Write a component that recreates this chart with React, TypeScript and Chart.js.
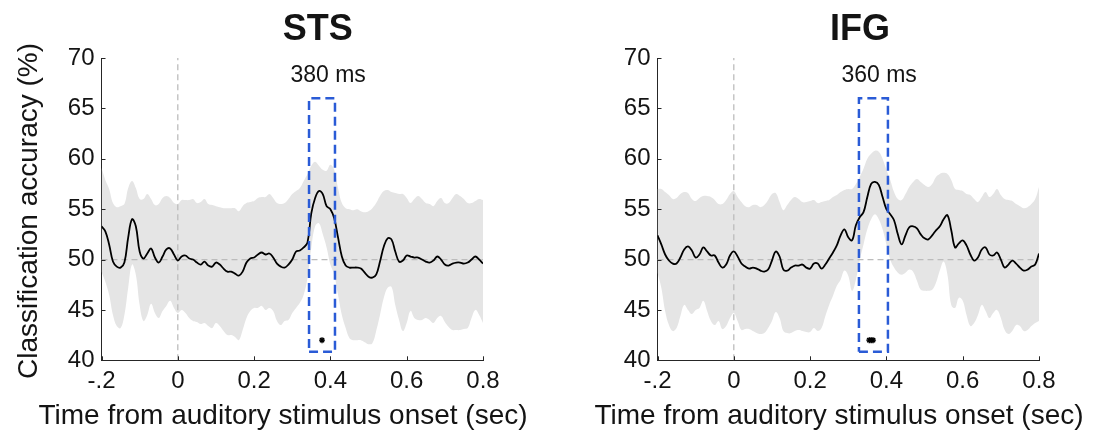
import React, { useEffect, useRef } from "react";
import { Chart, registerables } from "chart.js";

Chart.register(...registerables);

// ---------------- data ----------------
const timeSec = [
  -0.2, -0.19, -0.18, -0.17, -0.16, -0.15, -0.14, -0.13, -0.12, -0.11,
  -0.1, -0.09, -0.08, -0.07, -0.06, -0.05, -0.04, -0.03, -0.02, -0.01,
  0.0, 0.01, 0.02, 0.03, 0.04, 0.05, 0.06, 0.07, 0.08, 0.09,
  0.1, 0.11, 0.12, 0.13, 0.14, 0.15, 0.16, 0.17, 0.18, 0.19,
  0.2, 0.21, 0.22, 0.23, 0.24, 0.25, 0.26, 0.27, 0.28, 0.29,
  0.3, 0.31, 0.32, 0.33, 0.34, 0.35, 0.36, 0.37, 0.38, 0.39,
  0.4, 0.41, 0.42, 0.43, 0.44, 0.45, 0.46, 0.47, 0.48, 0.49,
  0.5, 0.51, 0.52, 0.53, 0.54, 0.55, 0.56, 0.57, 0.58, 0.59,
  0.6, 0.61, 0.62, 0.63, 0.64, 0.65, 0.66, 0.67, 0.68, 0.69,
  0.7, 0.71, 0.72, 0.73, 0.74, 0.75, 0.76, 0.77, 0.78, 0.79,
  0.8,
];

const stsMean = [
  53.3, 52.8, 51.5, 49.8, 49.3, 49.2, 49.7, 52.2, 54.0, 53.3,
  50.8, 50.1, 50.6, 51.1, 50.2, 49.7, 50.3, 51.0, 51.1, 50.5,
  49.9, 50.3, 50.4, 50.1, 50.0, 49.7, 49.5, 49.8, 49.4, 49.3,
  49.7, 49.5, 49.1, 48.8, 48.8, 48.6, 48.4, 48.8, 49.7, 50.1,
  50.2, 50.5, 50.7, 50.5, 50.6, 50.2, 49.6, 49.3, 49.2, 49.5,
  50.0, 50.8, 50.9, 51.2, 51.7, 54.6, 56.1, 56.8, 56.5, 55.3,
  55.0, 54.1, 52.2, 50.3, 49.4, 49.2, 49.2, 49.2, 49.1, 48.7,
  48.3, 48.2, 48.5, 49.8, 51.3, 52.1, 52.0, 50.8, 49.8, 49.9,
  50.4, 50.3, 50.2, 50.2, 50.0, 49.8, 49.7, 49.9, 50.3, 50.0,
  49.5, 49.4, 49.6, 49.7, 49.7, 49.6, 49.7, 50.0, 50.3, 50.0,
  49.6,
];

const stsUpper = [
  59.1, 57.9, 57.0, 55.6, 55.2, 55.3, 55.5, 57.1, 57.8, 57.1,
  56.0, 56.0, 56.5, 56.0, 55.4, 55.5, 56.1, 56.3, 56.1, 55.6,
  55.5, 55.9, 55.9, 55.9, 56.0, 55.6, 55.7, 56.0, 55.5, 55.4,
  55.3, 55.2, 55.1, 55.1, 55.1, 55.1, 54.8, 55.3, 55.6, 55.7,
  55.8, 56.1, 56.2, 56.2, 56.5, 56.1, 55.6, 55.5, 55.6, 56.0,
  56.5, 56.8, 57.1, 57.8, 58.5, 59.3, 59.7, 59.3, 58.9, 58.8,
  59.4, 58.9, 57.1, 55.6, 55.1, 55.0, 54.9, 55.0, 54.8, 54.7,
  54.8, 55.1, 55.6, 56.3, 56.8, 56.9, 56.7, 56.6, 56.5, 56.5,
  56.1, 55.6, 56.0, 56.3, 56.0, 55.6, 55.5, 55.3, 55.8, 56.1,
  55.6, 55.6, 56.1, 56.5, 56.3, 56.0, 55.6, 55.6, 55.8, 56.0,
  55.9,
];

const stsLower = [
  48.8, 47.8, 46.5, 44.5, 43.4, 43.2, 44.5, 47.2, 49.5, 48.5,
  45.5, 43.9, 44.5, 45.6, 44.7, 44.2, 44.9, 45.4, 45.9, 45.2,
  44.7, 45.0, 44.7, 44.2, 43.9, 43.8, 43.6, 43.7, 43.4, 43.2,
  43.7, 43.4, 42.9, 42.5, 42.5, 42.3, 42.0, 43.0, 44.2, 44.9,
  45.2, 45.2, 45.4, 45.0, 45.2, 44.9, 43.9, 43.5, 43.9, 44.0,
  44.7, 45.2, 45.7, 46.5, 48.2, 51.2, 53.3, 53.6, 52.5, 51.2,
  49.5, 48.5, 46.5, 44.5, 43.2, 42.2, 42.0, 42.0, 42.0, 41.8,
  41.6, 41.7, 42.9, 44.5, 46.2, 47.2, 47.3, 45.5, 44.0, 42.9,
  43.7, 44.9, 44.2, 44.0, 44.0, 44.2, 44.0, 43.7, 44.2, 44.4,
  43.8, 43.3, 43.0, 43.0, 43.0, 43.1, 43.2, 44.2, 45.0, 44.5,
  43.7,
];

const ifgMean = [
  52.4, 51.5, 50.5, 49.9, 49.6, 49.6, 50.2, 51.0, 51.3, 50.9,
  50.2, 50.5, 51.2, 50.8, 50.4, 50.4, 49.7, 49.2, 49.5, 50.4,
  50.8, 50.3, 49.6, 49.3, 49.1, 49.2, 49.1, 48.9, 48.8, 49.0,
  49.9, 50.8, 50.3, 49.0, 48.9, 49.2, 49.4, 49.4, 49.5, 49.2,
  49.1, 49.6, 49.6, 49.1, 49.5, 50.1, 50.7, 51.4, 52.4, 53.0,
  52.2, 51.9, 53.4, 54.2, 54.7, 56.2, 57.5, 57.7, 57.4, 56.2,
  55.0, 54.5, 53.9, 52.5, 51.5, 52.4, 53.2, 53.3, 53.1, 52.5,
  52.1, 52.0, 52.4, 52.9, 53.3, 54.0, 54.4, 52.9, 51.2, 51.6,
  51.9, 51.4, 50.5, 49.9, 50.2, 51.0, 51.2, 50.5, 50.4, 50.7,
  50.0, 49.2, 49.5, 49.9, 49.6, 49.2, 48.9, 49.0, 49.3, 49.5,
  50.6,
];

const ifgUpper = [
  57.0, 57.0, 56.7, 56.4, 56.0, 56.1, 56.5, 56.7, 56.6, 56.0,
  55.8, 56.1, 56.3, 56.3, 56.2, 55.9, 55.5, 55.5, 55.9, 56.5,
  56.8, 56.2, 55.7, 55.3, 55.2, 55.4, 55.4, 55.2, 55.4, 55.9,
  56.5, 56.6, 55.7, 54.9, 55.4, 55.9, 56.2, 56.0, 55.7, 55.7,
  55.8, 55.9, 55.6, 55.7, 55.8, 55.9, 56.2, 56.4, 56.7, 56.9,
  57.0, 57.0, 57.5, 58.2, 59.0, 60.0, 60.5, 60.8, 60.7, 60.0,
  58.9, 57.9, 56.7, 56.0, 55.9, 56.5, 57.2, 57.7, 58.0, 57.7,
  57.4, 57.2, 57.5, 58.2, 58.5, 58.6, 58.5, 57.9, 57.0, 56.9,
  56.8, 56.5, 56.4, 56.0, 55.7, 56.2, 56.7, 56.2, 56.5, 57.0,
  56.4, 56.0, 55.9, 55.8, 55.5, 55.3, 55.1, 55.2, 55.5, 56.0,
  57.2,
];

const ifgLower = [
  48.7, 47.2, 44.9, 43.5, 42.9, 43.2, 44.4, 45.5, 45.0, 44.6,
  45.0, 45.2, 45.9, 44.9, 43.9, 43.5, 43.9, 43.1, 43.4, 44.2,
  44.7, 43.9, 43.0, 43.1, 43.1, 42.9, 42.7, 42.6, 42.7, 43.2,
  43.9, 44.8, 44.2, 42.9, 42.7, 42.7, 42.9, 43.0, 42.9, 42.8,
  42.8, 43.2, 42.9, 43.2, 44.4, 45.5, 46.4, 47.4, 48.0, 48.9,
  48.4, 46.9, 48.0, 49.9, 51.5, 53.0, 54.0, 54.5, 54.0, 53.0,
  51.5, 50.0, 49.2, 48.7, 48.5, 48.7, 49.0, 48.8, 47.9, 47.0,
  46.9, 46.9, 47.0, 47.7, 48.9, 49.8, 48.5, 45.5, 45.2, 46.2,
  45.9, 44.5, 43.4, 43.7, 44.5, 45.5, 44.9, 44.2, 44.7, 45.0,
  44.2, 43.0, 42.6, 42.9, 43.5, 43.4, 42.9, 43.0, 43.4, 43.7,
  43.9,
];

const yRange = [40, 70];
const yStep = 5;
const xRange = [-0.2, 0.8];
const xTickValues = [-0.2, 0, 0.2, 0.4, 0.6, 0.8];
const xTickLabels = ["-.2", "0", "0.2", "0.4", "0.6", "0.8"];
const chanceLevel = 50;
const onsetTime = 0;

const stsWindow = [0.344, 0.412];
const ifgWindow = [0.328, 0.404];
const windowAccuracy = [40.85, 66.0];

const stsSigTimes = [0.378];
const ifgSigTimes = [0.355, 0.36, 0.365];
const sigMarkLevel = 42;

const stsPeakLabel = "380 ms";
const ifgPeakLabel = "360 ms";
const stsPeakLabelAt = [0.394, 67.6];
const ifgPeakLabelAt = [0.381, 67.6];

const yAxisTitle = "Classification accuracy (%)";
const xAxisTitle = "Time from auditory stimulus onset (sec)";

// ---------------- styling ----------------
const FONT = "'Liberation Sans', Arial, Helvetica, sans-serif";
const TEXT = "#141414";
const AXIS = "#262626";
const BAND = "#e5e5e5";
const REF = "#bcbcbc";
const BLUE = "#2a5bd6";

const W = 556;
const H = 443;

Chart.defaults.font.family = FONT;

const toXY = (xs: number[], ys: number[]) => xs.map((x, i) => ({ x, y: ys[i] }));

const tickMarks = {
  id: "tickMarks",
  afterDraw(chart: any) {
    const ctx = chart.ctx;
    const { left, bottom } = chart.chartArea;
    const xs = chart.scales.x;
    const ys = chart.scales.y;
    ctx.save();
    ctx.strokeStyle = AXIS;
    ctx.lineWidth = 1;
    ctx.beginPath();
    xs.ticks.forEach((t: any) => {
      const px = Math.round(xs.getPixelForValue(t.value)) + 0.5;
      ctx.moveTo(px, bottom);
      ctx.lineTo(px, bottom - 4);
    });
    ys.ticks.forEach((t: any) => {
      const py = Math.round(ys.getPixelForValue(t.value)) + 0.5;
      ctx.moveTo(left, py);
      ctx.lineTo(left + 4, py);
    });
    ctx.stroke();
    ctx.restore();
  },
};

const panelText = {
  id: "panelText",
  afterDraw(chart: any, _args: any, opts: any) {
    const ctx = chart.ctx;
    const xs = chart.scales.x;
    const ys = chart.scales.y;
    ctx.save();
    ctx.fillStyle = TEXT;
    ctx.textBaseline = "alphabetic";
    ctx.textAlign = "center";
    // panel title
    ctx.font = `bold 36px ${FONT}`;
    ctx.fillText(opts.title, opts.titleX, 40);
    // peak label
    ctx.font = `23px ${FONT}`;
    ctx.fillText(
      opts.peakLabel,
      xs.getPixelForValue(opts.peakAt[0]),
      ys.getPixelForValue(opts.peakAt[1])
    );
    // x axis title
    ctx.font = `28px ${FONT}`;
    ctx.fillText(xAxisTitle, opts.xTitleX, 423.5);
    // y axis title
    if (opts.showYTitle) {
      ctx.translate(36.5, 211);
      ctx.rotate(-Math.PI / 2);
      ctx.fillText(yAxisTitle, 0, 0);
    }
    ctx.restore();
  },
};

type PanelCfg = {
  title: string;
  titleX: number;
  mean: number[];
  upper: number[];
  lower: number[];
  window: number[];
  sigTimes: number[];
  peakLabel: string;
  peakAt: number[];
  showYTitle: boolean;
  xTitleX: number;
};

function Panel({ cfg }: { cfg: PanelCfg }) {
  const ref = useRef<HTMLCanvasElement | null>(null);
  useEffect(() => {
    if (!ref.current) return;
    const boxPts = [
      { x: cfg.window[0], y: windowAccuracy[0] },
      { x: cfg.window[1], y: windowAccuracy[0] },
      { x: cfg.window[1], y: windowAccuracy[1] },
      { x: cfg.window[0], y: windowAccuracy[1] },
      { x: cfg.window[0], y: windowAccuracy[0] },
    ];
    const chart = new Chart(ref.current, {
      type: "line",
      data: {
        datasets: [
          {
            data: toXY(timeSec, cfg.upper),
            borderWidth: 0,
            pointRadius: 0,
            fill: "+1",
            backgroundColor: BAND,
            borderColor: "rgba(0,0,0,0)",
            tension: 0.4,
            order: 6,
          },
          {
            data: toXY(timeSec, cfg.lower),
            borderWidth: 0,
            pointRadius: 0,
            fill: false,
            borderColor: "rgba(0,0,0,0)",
            tension: 0.4,
            order: 5,
          },
          {
            data: [
              { x: xRange[0], y: chanceLevel },
              { x: xRange[1], y: chanceLevel },
            ],
            borderColor: REF,
            borderWidth: 1.3,
            borderDash: [6, 4],
            pointRadius: 0,
            fill: false,
            order: 4,
          },
          {
            data: [
              { x: onsetTime, y: yRange[0] },
              { x: onsetTime, y: yRange[1] },
            ],
            borderColor: REF,
            borderWidth: 1.3,
            borderDash: [6, 4],
            pointRadius: 0,
            fill: false,
            order: 3,
          },
          {
            data: toXY(timeSec, cfg.mean),
            borderColor: "#000000",
            borderWidth: 1.8,
            pointRadius: 0,
            fill: false,
            tension: 0.4,
            order: 2,
          },
          {
            data: boxPts,
            borderColor: BLUE,
            borderWidth: 2.5,
            borderDash: [9, 5],
            pointRadius: 0,
            fill: false,
            tension: 0,
            order: 1,
          },
          {
            data: cfg.sigTimes.map((t) => ({ x: t, y: sigMarkLevel })),
            showLine: false,
            pointStyle: "star",
            pointRadius: 3,
            borderColor: "#000000",
            backgroundColor: "#000000",
            pointBorderWidth: 1.4,
            order: 0,
          },
        ] as any,
      },
      options: {
        responsive: false,
        animation: false,
        devicePixelRatio: 1,
        events: [],
        layout: { padding: { top: 58, right: 73, bottom: 0, left: 0 } },
        plugins: {
          legend: { display: false },
          tooltip: { enabled: false },
          title: { display: false },
          panelText: {
            title: cfg.title,
            titleX: cfg.titleX,
            peakLabel: cfg.peakLabel,
            peakAt: cfg.peakAt,
            showYTitle: cfg.showYTitle,
            xTitleX: cfg.xTitleX,
          },
        } as any,
        scales: {
          x: {
            type: "linear",
            min: xRange[0],
            max: xRange[1],
            grid: { display: false, drawTicks: false },
            border: { display: true, color: AXIS, width: 1 },
            afterBuildTicks: (scale: any) => {
              scale.ticks = xTickValues.map((v) => ({ value: v }));
            },
            afterFit: (scale: any) => {
              scale.height = H - 360.3;
            },
            ticks: {
              autoSkip: false,
              maxRotation: 0,
              padding: 7,
              color: TEXT,
              font: { size: 24, family: FONT },
              callback: (_v: any, i: number) => xTickLabels[i],
            },
          },
          y: {
            type: "linear",
            min: yRange[0],
            max: yRange[1],
            grid: { display: false, drawTicks: false },
            border: { display: true, color: AXIS, width: 1 },
            afterFit: (scale: any) => {
              scale.width = 101.5;
            },
            ticks: {
              stepSize: yStep,
              padding: 7,
              color: TEXT,
              font: { size: 24, family: FONT },
            },
          },
        } as any,
      },
      plugins: [tickMarks, panelText],
    });
    return () => chart.destroy();
  }, [cfg]);
  return (
    <canvas
      ref={ref}
      width={W}
      height={H}
      style={{ display: "block", width: W, height: H }}
    />
  );
}

const stsCfg: PanelCfg = {
  title: "STS",
  titleX: 317.7,
  mean: stsMean,
  upper: stsUpper,
  lower: stsLower,
  window: stsWindow,
  sigTimes: stsSigTimes,
  peakLabel: stsPeakLabel,
  peakAt: stsPeakLabelAt,
  showYTitle: true,
  xTitleX: 283,
};

const ifgCfg: PanelCfg = {
  title: "IFG",
  titleX: 304,
  mean: ifgMean,
  upper: ifgUpper,
  lower: ifgLower,
  window: ifgWindow,
  sigTimes: ifgSigTimes,
  peakLabel: ifgPeakLabel,
  peakAt: ifgPeakLabelAt,
  showYTitle: false,
  xTitleX: 283,
};

export default function App() {
  return (
    <div
      style={{
        position: "fixed",
        left: 0,
        top: 0,
        width: 1112,
        height: 443,
        display: "flex",
        background: "#ffffff",
      }}
    >
      <Panel cfg={stsCfg} />
      <Panel cfg={ifgCfg} />
    </div>
  );
}
